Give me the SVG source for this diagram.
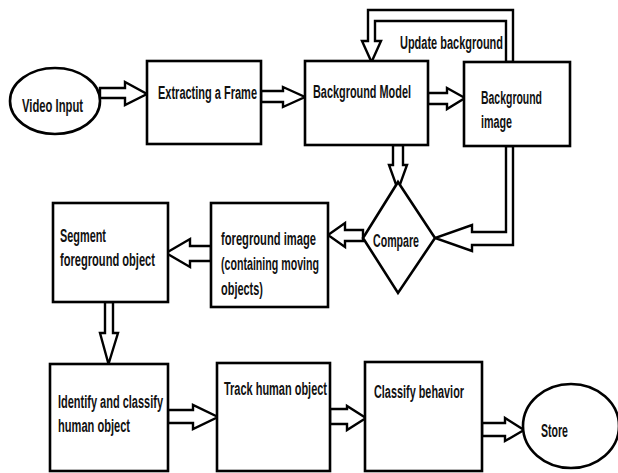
<svg xmlns="http://www.w3.org/2000/svg" width="618" height="473" viewBox="0 0 618 473">
<style>
.box{fill:#fff;stroke:#000;stroke-width:2.6}
.arr{fill:#fff;stroke:#000;stroke-width:2.4;stroke-linejoin:miter}
text{font-family:"Liberation Sans",Arial,sans-serif;font-weight:bold;font-size:18px;fill:#111}
</style>
<rect width="618" height="473" fill="#fff"/>
<g id="connectors">
<polygon class="arr" points="100,88 125,88 125,82 147,94 125,105 125,98 100,98"/>
<polygon class="arr" points="261,91 283,91 283,87 305,97 283,107 283,102 261,102"/>
<polygon class="arr" points="428,93 447,93 447,88 465,98 447,109 447,104 428,104"/>
<polygon class="arr" points="393,145 393,165 389,165 398,190 407,165 403,165 403,145"/>
<polygon class="arr" points="506,62 506,21 375,21 375,41 381,41 371.5,62 362,41 368,41 368,10 513,10 513,62"/>
<polygon class="arr" points="506,146 506,232 472,232 472,225 435,238 472,251 472,245 513,245 513,146"/>
<polygon class="arr" points="363,230 345,230 345,223 328,235 345,247 345,241 363,241"/>
<polygon class="arr" points="211,246 190,246 190,239 166,253 190,267 190,261 211,261"/>
<polygon class="arr" points="105,302 105,333 100,333 108.5,364 118,333 113,333 113,302"/>
<polygon class="arr" points="168,410 193,410 193,405 218,417 193,429 193,423 168,423"/>
<polygon class="arr" points="330,409 347,409 347,406 366,418 347,430 347,424 330,424"/>
<polygon class="arr" points="482,423 505,423 505,418 524,430 505,441 505,436 482,436"/>
</g>
<g id="video-input"><ellipse class="box" cx="55" cy="101" rx="45" ry="33"/><text x="22" y="112" textLength="61" lengthAdjust="spacingAndGlyphs">Video Input</text></g>
<g id="extracting"><rect class="box" x="147" y="61" width="114" height="83"/><text x="158" y="99" textLength="99" lengthAdjust="spacingAndGlyphs">Extracting a Frame</text></g>
<g id="background-model"><rect class="box" x="305" y="61" width="123" height="84"/><text x="313" y="98" textLength="98" lengthAdjust="spacingAndGlyphs">Background Model</text></g>
<g id="background-image"><rect class="box" x="464" y="62" width="106" height="84"/><text x="481" y="104" textLength="61" lengthAdjust="spacingAndGlyphs">Background</text><text x="481" y="128" textLength="31" lengthAdjust="spacingAndGlyphs">image</text></g>
<g id="update-label"><text x="400" y="49" textLength="103" lengthAdjust="spacingAndGlyphs">Update background</text></g>
<g id="compare"><polygon class="box" points="398,182 435,238 398,293 363,238"/><text x="373" y="247" textLength="46" lengthAdjust="spacingAndGlyphs">Compare</text></g>
<g id="foreground-image"><rect class="box" x="211" y="203" width="117" height="104"/><text x="221" y="245" textLength="95" lengthAdjust="spacingAndGlyphs">foreground image</text><text x="221" y="270" textLength="98" lengthAdjust="spacingAndGlyphs">(containing moving</text><text x="221" y="295" textLength="42" lengthAdjust="spacingAndGlyphs">objects)</text></g>
<g id="segment"><rect class="box" x="53" y="203" width="115" height="99"/><text x="60" y="242" textLength="46" lengthAdjust="spacingAndGlyphs">Segment</text><text x="60" y="266" textLength="95" lengthAdjust="spacingAndGlyphs">foreground object</text></g>
<g id="identify"><rect class="box" x="50" y="364" width="118" height="107"/><text x="58" y="408" textLength="105" lengthAdjust="spacingAndGlyphs">Identify and classify</text><text x="58" y="432" textLength="72" lengthAdjust="spacingAndGlyphs">human object</text></g>
<g id="track"><rect class="box" x="217" y="363" width="113" height="108"/><text x="224" y="395" textLength="103" lengthAdjust="spacingAndGlyphs">Track human object</text></g>
<g id="classify"><rect class="box" x="365" y="362" width="117" height="109"/><text x="374" y="398" textLength="90" lengthAdjust="spacingAndGlyphs">Classify behavior</text></g>
<g id="store"><ellipse class="box" cx="571" cy="426" rx="48" ry="42"/><text x="541" y="437" textLength="27" lengthAdjust="spacingAndGlyphs">Store</text></g>
</svg>
